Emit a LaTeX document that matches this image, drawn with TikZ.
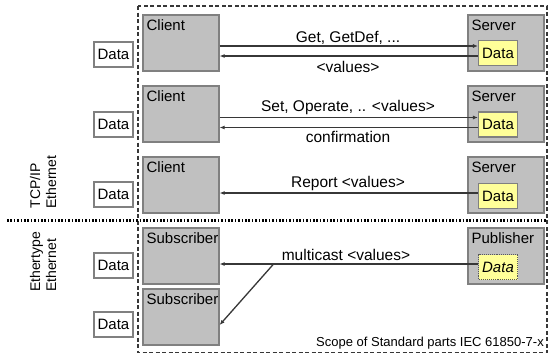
\documentclass[tikz,border=0pt]{standalone}
\usepackage{fontspec}
\setmainfont{Liberation Sans}
\usetikzlibrary{arrows.meta, positioning, calc}

\definecolor{boxgray}{RGB}{192,192,192}
\definecolor{edgegray}{RGB}{128,128,128}
\definecolor{datayellow}{RGB}{255,255,153}
\definecolor{linegray}{RGB}{55,55,55}

\tikzset{
  unit/.style={draw=edgegray, fill=boxgray, line width=1.2pt,
    minimum width=76pt, minimum height=56pt, inner sep=0pt},
  unitlabel/.style={anchor=north west, inner xsep=4pt, inner ysep=5pt,
    font=\fontsize{15}{18}\selectfont},
  localdata/.style={draw=edgegray, fill=white, line width=1.1pt,
    minimum width=39pt, minimum height=25pt, inner sep=0pt,
    font=\fontsize{15}{18}\selectfont},
  ieddata/.style={localdata, fill=datayellow},
  msg/.style={draw=linegray, line width=1.3pt},
  sendto/.style={-{Latex[length=5pt,width=4pt]}},
  msglabel/.style={font=\fontsize{15.5}{18}\selectfont, inner sep=1pt},
  netlabel/.style={rotate=90, align=left, font=\fontsize{14}{16}\selectfont},
}

\begin{document}
\begin{tikzpicture}[x=1pt, y=-1pt]
  \useasboundingbox (0,0) rectangle (557,354);
  % scope of the standard, split into TCP/IP and Ethertype
  \draw[linegray, line width=1.2pt, dash pattern=on 4pt off 2.5pt] (138,6) rectangle (547,352.5);
  \draw[black, line width=2.2pt, dash pattern=on 1.6pt off 1.8pt] (7,220.5) -- (547,220.5);
  \node[netlabel] (tcpip) at (43,182) {TCP/IP\\Ethernet};
  \node[netlabel] (ethtype) at (43,262) {Ethertype\\Ethernet};
  %
  % clients / subscribers
  \node[unit, label={[unitlabel]north west:Client}] (cliA) at (181,43) {};
  \node[unit, label={[unitlabel]north west:Client}] (cliB) at (181,114) {};
  \node[unit, label={[unitlabel]north west:Client}] (cliC) at (181,185) {};
  \node[unit, label={[unitlabel]north west:Subscriber}] (subA) at (181,256) {};
  \node[unit, label={[unitlabel]north west:Subscriber}] (subB) at (181,317) {};
  %
  \node[localdata] (locA) at (113.5,54.5) {Data};
  \node[localdata] (locB) at (113.5,124.5) {Data};
  \node[localdata] (locC) at (113.5,194.5) {Data};
  \node[localdata] (locD) at (113.5,265.5) {Data};
  \node[localdata] (locE) at (113.5,324.5) {Data};
  %
  % servers / publisher
  \node[unit, label={[unitlabel]north west:Server}] (srvA) at (506,43) {};
  \node[unit, label={[unitlabel]north west:Server}] (srvB) at (506,114) {};
  \node[unit, label={[unitlabel]north west:Server}] (srvC) at (506,185) {};
  \node[unit, label={[unitlabel]north west:Publisher}] (pub) at (506,256) {};
  \node[ieddata] (srvdA) at (498,53) {Data};
  \node[ieddata] (srvdB) at (498,124.5) {Data};
  \node[ieddata] (srvdC) at (498,196) {Data};
  \node[ieddata, draw=edgegray!70!black, densely dotted] (pubd) at (498,267) {\itshape Data};
  %
  % services
  \coordinate (reqA) at ([yshift=7pt]srvdA.west);
  \coordinate (rspA) at ([yshift=-3pt]srvdA.west);
  \draw[msg, sendto] (reqA -| cliA.east) -- (reqA);
  \draw[msg, sendto] (rspA) -- (rspA -| cliA.east);
  \node[msglabel] (getA) at (348,38) {Get, GetDef, ...};
  \node[msglabel] (valA) at (348,67) {<values>};
  %
  \coordinate (reqB) at ([yshift=7pt]srvdB.west);
  \coordinate (rspB) at ([yshift=-3pt]srvdB.west);
  \draw[msg, sendto] (reqB -| cliB.east) -- (reqB);
  \draw[msg, sendto] (rspB) -- (rspB -| cliB.east);
  \node[msglabel] (setB) at (348,107) {Set, Operate, .. <values>};
  \node[msglabel] (cnfB) at (348,137) {confirmation};
  %
  \coordinate (rptC) at ([yshift=3pt]srvdC.west);
  \draw[msg, sendto] (rptC) -- (rptC -| cliC.east);
  \node[msglabel] (repC) at (348,183) {Report <values>};
  %
  \coordinate (mcast) at ([yshift=3pt]pubd.west);
  \coordinate (fork) at ($(mcast -| subA.east)+(54,0)$);
  \draw[msg, sendto] (mcast) -- (mcast -| subA.east);
  \draw[msg, sendto] (fork) -- ([yshift=-8pt]subB.east);
  \node[msglabel] (mcl) at (346,255) {multicast <values>};
  %
  \node[anchor=south east, inner sep=1pt, font=\fontsize{13}{15}\selectfont] (scope) at (545,350)
    {Scope of Standard parts IEC 61850-7-x};
\end{tikzpicture}
\end{document}
